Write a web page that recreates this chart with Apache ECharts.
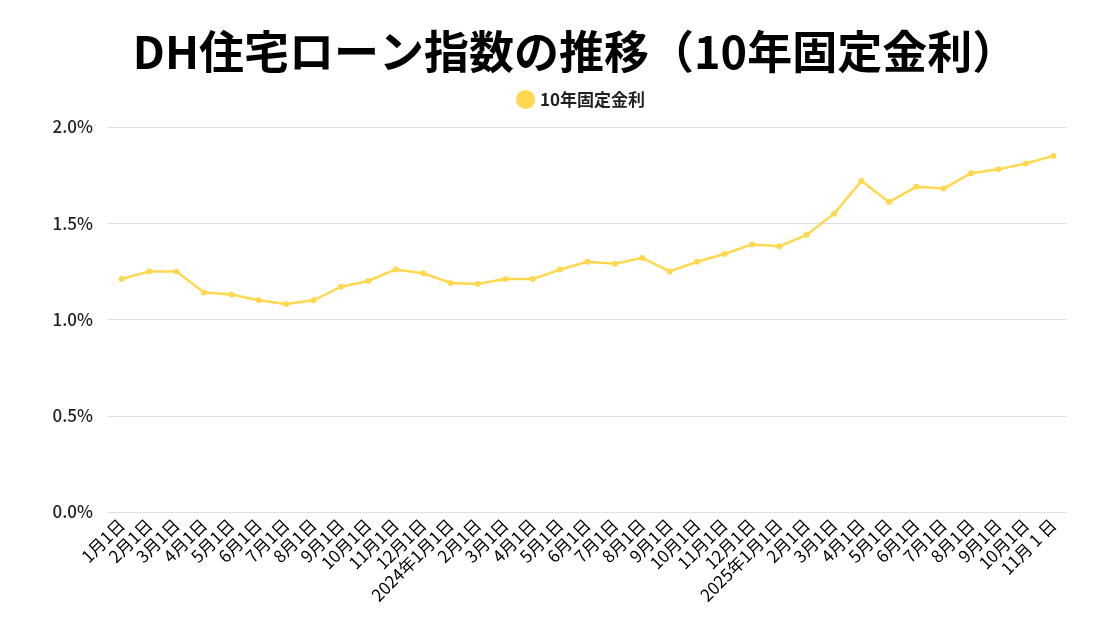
<!DOCTYPE html>
<html><head><meta charset="utf-8">
<script src="https://cdn.jsdelivr.net/npm/echarts@6/dist/echarts.min.js"></script>
<style>html,body{margin:0;padding:0;background:#fff}#c{width:1120px;height:630px}</style>
</head><body><div id="c"></div>
<script>
const titleText = 'DH住宅ローン指数の推移（10年固定金利）';
const seriesName = '10年固定金利';
const categories = ['1月1日','2月1日','3月1日','4月1日','5月1日','6月1日','7月1日','8月1日','9月1日','10月1日','11月1日','12月1日',
  '2024年1月1日','2月1日','3月1日','4月1日','5月1日','6月1日','7月1日','8月1日','9月1日','10月1日','11月1日','12月1日',
  '2025年1月1日','2月1日','3月1日','4月1日','5月1日','6月1日','7月1日','8月1日','9月1日','10月1日','11月 1 日'];
const rates = [1.21,1.25,1.25,1.14,1.13,1.10,1.08,1.10,1.17,1.20,1.26,1.24,
  1.19,1.185,1.21,1.21,1.26,1.30,1.29,1.32,1.25,1.30,1.34,1.39,
  1.38,1.44,1.55,1.72,1.61,1.69,1.68,1.76,1.78,1.81,1.85];
const yTicks = {min:0, max:2.0, interval:0.5};

const chart = echarts.init(document.getElementById('c'), null, {renderer:'canvas'});
const FONT = '"Noto Sans CJK JP","Noto Sans",sans-serif';
chart.setOption({
  backgroundColor:'#ffffff',
  animation:false,
  title:{text:titleText,left:570,textAlign:'center',top:24,textStyle:{fontFamily:FONT,fontSize:45,fontWeight:'bold',color:'#000'}},
  legend:{top:85,left:511,icon:'circle',itemWidth:19,itemHeight:19,itemGap:8,
    textStyle:{fontFamily:FONT,fontSize:17,color:'#222',fontWeight:'bold'},data:[seriesName]},
  grid:{left:108,right:53,top:127,bottom:118,containLabel:false},
  xAxis:{type:'category',data:categories,boundaryGap:true,
    axisLine:{show:false},axisTick:{show:false},
    axisLabel:{rotate:45,interval:0,margin:10,fontFamily:FONT,fontSize:17,color:'#000'}},
  yAxis:{type:'value',min:yTicks.min,max:yTicks.max,interval:yTicks.interval,
    axisLine:{show:false},axisTick:{show:false},
    splitLine:{lineStyle:{color:'#e0e0e0',width:1}},
    axisLabel:{formatter:v=>v.toFixed(1)+'%',margin:15,fontFamily:FONT,fontSize:17,fontWeight:500,color:'#222'}},
  series:[{name:seriesName,type:'line',data:rates,color:'#FFD84F',
    symbol:'circle',symbolSize:6,lineStyle:{width:2.5,color:'#FFD84F'},itemStyle:{color:'#FFD84F'}}]
});
</script></body></html>
